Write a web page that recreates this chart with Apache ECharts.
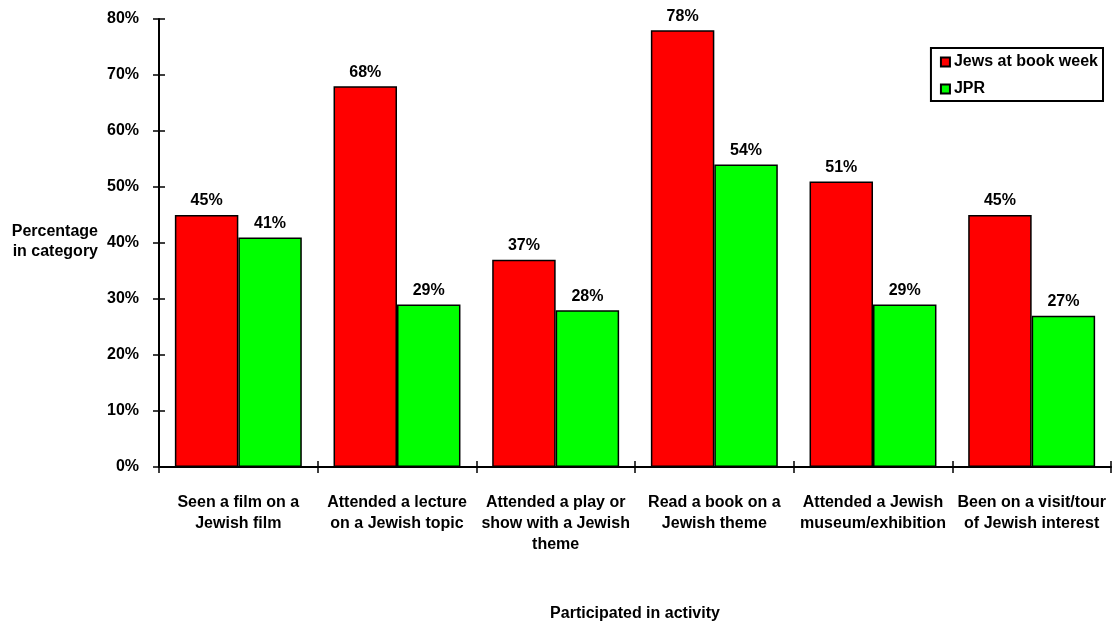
<!DOCTYPE html>
<html>
<head>
<meta charset="utf-8">
<script src="https://cdn.jsdelivr.net/npm/echarts@6/dist/echarts.min.js"></script>
<style>
  html, body { margin: 0; padding: 0; background: #fff; }
  #chart { width: 1112px; height: 627px; }
</style>
</head>
<body>
<div id="chart"></div>
<script>
// Activity categories (x axis)
const categories = [
  'Seen a film on a\nJewish film',
  'Attended a lecture\non a Jewish topic',
  'Attended a play or\nshow with a Jewish\ntheme',
  'Read a book on a\nJewish theme',
  'Attended a Jewish\nmuseum/exhibition',
  'Been on a visit/tour\nof Jewish interest'
];
// Percentages per series
const bookWeek = [45, 68, 37, 78, 51, 45];
const jpr = [41, 29, 28, 54, 29, 27];
const seriesNames = ['Jews at book week', 'JPR'];
const yTicks = [0, 10, 20, 30, 40, 50, 60, 70, 80];

const FONT = '"Liberation Sans", Arial, sans-serif';
const chart = echarts.init(document.getElementById('chart'));

const barLabel = {
  show: true, position: 'top', distance: 6,
  formatter: p => p.value + '%',
  fontFamily: FONT, fontWeight: 'bold', fontSize: 16, color: '#000'
};

chart.setOption({
  animation: false,
  grid: { left: 159, right: 1, top: 19, bottom: 160, containLabel: false },
  legend: {
    data: seriesNames,
    orient: 'vertical',
    right: 9, top: 48,
    padding: [5, 5, 3, 9],
    itemGap: 9,
    itemWidth: 9, itemHeight: 9,
    icon: 'rect',
    borderColor: '#000', borderWidth: 2,
    backgroundColor: '#fff',
    textStyle: { fontFamily: FONT, fontWeight: 'bold', fontSize: 16, lineHeight: 18, color: '#000', padding: [0, 0, 0, -1] }
  },
  xAxis: [{
    type: 'category', data: categories,
    axisLine: { lineStyle: { color: '#000', width: 2 } },
    axisTick: { show: true, length: 6, lineStyle: { color: '#000', width: 1.5 } },
    axisLabel: {
      interval: 0, margin: 25, lineHeight: 21,
      fontFamily: FONT, fontWeight: 'bold', fontSize: 16, color: '#000'
    },
    splitLine: { show: false }
  }, {
    type: 'category', data: categories, position: 'bottom',
    axisLine: { show: false },
    axisTick: { show: true, inside: true, length: 6, lineStyle: { color: '#000', width: 1.5 } },
    axisLabel: { show: false }
  }],
  yAxis: [{
    type: 'value', min: 0, max: 80, interval: 10,
    axisLine: { show: true, lineStyle: { color: '#000', width: 2 } },
    axisTick: { show: true, length: 6, lineStyle: { color: '#000', width: 1.5 } },
    axisLabel: {
      margin: 20, formatter: v => yTicks.includes(v) ? v + '%' : '',
      fontFamily: FONT, fontWeight: 'bold', fontSize: 16, color: '#000'
    },
    splitLine: { show: false }
  }, {
    type: 'value', min: 0, max: 80, interval: 10, position: 'left',
    axisLine: { show: false },
    axisTick: { show: true, inside: true, length: 6, lineStyle: { color: '#000', width: 1.5 } },
    axisLabel: { show: false },
    splitLine: { show: false }
  }],
  graphic: [{
    type: 'text', x: 98, y: 222,
    style: {
      text: 'Percentage\nin category', align: 'right', verticalAlign: 'top', lineHeight: 20,
      font: 'bold 16px ' + FONT, fill: '#000'
    }
  }, {
    type: 'text', x: 635, y: 614,
    style: {
      text: 'Participated in activity', align: 'center', verticalAlign: 'middle',
      font: 'bold 16px ' + FONT, fill: '#000'
    }
  }],
  series: [{
    name: seriesNames[0], type: 'bar', data: bookWeek,
    barGap: '0%', barCategoryGap: '20%',
    itemStyle: { color: '#ff0000', borderColor: '#000', borderWidth: 1.5 },
    label: barLabel
  }, {
    name: seriesNames[1], type: 'bar', data: jpr,
    barGap: '0%', barCategoryGap: '20%',
    itemStyle: { color: '#00ff00', borderColor: '#000', borderWidth: 1.5 },
    label: barLabel
  }]
});
</script>
</body>
</html>
